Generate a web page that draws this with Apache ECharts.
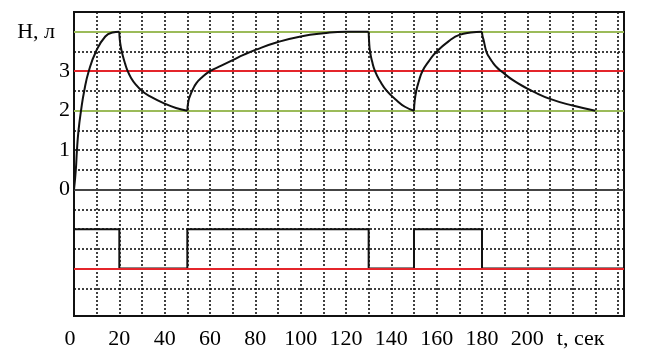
<!DOCTYPE html>
<html>
<head>
<meta charset="utf-8">
<script src="https://cdn.jsdelivr.net/npm/echarts@6/dist/echarts.min.js"></script>
<style>
  html, body { margin: 0; padding: 0; background: #fff; }
  #chart { width: 653px; height: 357px; }
</style>
</head>
<body>
<div id="chart"></div>
<script>
// уровень H (л) по времени t (сек), по участкам
const rise1 = [[0, 0], [0.8, 0.5], [1.3, 1], [2.0, 1.5], [3.1, 2], [4.5, 2.5], [6.5, 3], [9.7, 3.5], [13.8, 3.88], [17, 3.98], [20, 4]];
const fall1 = [[20, 4], [20.2, 3.8], [20.7, 3.6], [21.5, 3.4], [22.5, 3.2], [23.7, 3.0], [25, 2.85], [27, 2.68], [30, 2.5], [34, 2.35], [40, 2.18], [45, 2.07], [50, 2]];
const rise2 = [[50, 2], [50.5, 2.25], [51.5, 2.42], [52.5, 2.55], [54, 2.7], [56, 2.82], [60, 3.0], [65, 3.14], [70, 3.28], [75, 3.42], [80, 3.54], [90, 3.74], [100, 3.88], [110, 3.96], [120, 4], [130, 4]];
const fall2 = [[130, 4], [130.2, 3.75], [130.6, 3.5], [131.5, 3.25], [132.8, 3], [135, 2.75], [138, 2.5], [142.4, 2.26], [146, 2.1], [150, 2]];
const rise3 = [[150, 2], [150.3, 2.25], [151, 2.5], [152, 2.72], [153.7, 3], [156.5, 3.25], [160, 3.5], [166, 3.79], [170, 3.92], [175, 3.98], [180, 4]];
const fall3 = [[180, 4], [180.2, 3.9], [180.7, 3.79], [181.9, 3.5], [183, 3.37], [184.5, 3.24], [186.5, 3.1], [188.5, 3], [194, 2.76], [200, 2.56], [202, 2.5], [210, 2.3], [220, 2.13], [230, 2.0]];

// состояние клапана (ступеньки)
const tMax = 242.65;
const valve = [[0, -1], [20, -1], [20, -2], [50, -2], [50, -1], [130, -1], [130, -2], [150, -2], [150, -1], [180, -1], [180, -2], [tMax, -2]];

// горизонтальные линии
const greenLevels = [4, 2];
const redLevels = [3, -2];
const zeroLevels = [0];
const dottedLevels = [3.5, 2.5, 1.5, 1, 0.5, -0.5, -1, -1.5, -2.5];

// подписи осей
const yLabelValues = [0, 1, 2, 3, 4];
const yName = 'Н, л';
const xLabelValues = [20, 40, 60, 80, 100, 120, 140, 160, 180, 200];
const xName = 't, сек';

const font = 'Liberation Serif';

function levelSeries(levels, color, type, z) {
    return {
        type: 'line',
        data: [],
        silent: true,
        z: z,
        markLine: {
            silent: true,
            symbol: 'none',
            animation: false,
            label: { show: false },
            z: z,
            lineStyle: { color: color, width: type === 'solid' ? 2 : 1.6, type: type },
            data: levels.map(v => ({ yAxis: v }))
        }
    };
}

function curveSeries(data) {
    return {
        type: 'line',
        data: data,
        showSymbol: false,
        smooth: 0.5,
        z: 10,
        lineStyle: { color: '#111', width: 2 }
    };
}

const chart = echarts.init(document.getElementById('chart'), null, { renderer: 'canvas' });

chart.setOption({
    animation: false,
    backgroundColor: '#fff',
    grid: {
        left: 74, right: 29, top: 12, bottom: 41,
        show: true, borderColor: '#111', borderWidth: 2, backgroundColor: 'transparent'
    },
    xAxis: {
        type: 'value',
        min: 0, max: tMax, interval: 10,
        axisLine: { show: false },
        axisTick: { show: false },
        splitLine: { show: true, lineStyle: { color: '#111', width: 1.6, type: [2, 2] } },
        axisLabel: {
            margin: 12,
            color: '#000',
            fontFamily: font,
            fontSize: 22,
            showMaxLabel: false,
            formatter: v => {
                if (v === 0) return '{z|0}';
                if (xLabelValues.includes(v)) return String(v);
                if (v === 220) return '{n|' + xName + '}';
                return '';
            },
            rich: {
                n: { fontFamily: font, fontSize: 22, color: '#000', padding: [0, 0, 0, 16] },
                z: { fontFamily: font, fontSize: 22, color: '#000', padding: [0, 8, 0, 0] }
            }
        }
    },
    yAxis: {
        type: 'value',
        min: -3.2, max: 4.5,
        axisLine: { show: false },
        axisTick: { show: false },
        splitLine: { show: false },
        axisLabel: {
            margin: 4,
            color: '#000',
            fontFamily: font,
            fontSize: 22,
            customValues: yLabelValues,
            formatter: v => v === 4 ? '{n|' + yName + '}' : String(v),
            rich: { n: { fontFamily: font, fontSize: 22, color: '#000', padding: [0, 15, 0, 0] } }
        }
    },
    series: [
        levelSeries(dottedLevels, '#111', [2, 2], 1),
        {
            type: 'line',
            data: valve,
            showSymbol: false,
            z: 2,
            lineStyle: { color: '#111', width: 2 }
        },
        levelSeries(zeroLevels, '#444', 'solid', 3),
        levelSeries(greenLevels, '#9bbb59', 'solid', 3),
        levelSeries(redLevels, '#e4252b', 'solid', 3),
        curveSeries(rise1),
        curveSeries(fall1),
        curveSeries(rise2),
        curveSeries(fall2),
        curveSeries(rise3),
        curveSeries(fall3)
    ]
});
</script>
</body>
</html>
